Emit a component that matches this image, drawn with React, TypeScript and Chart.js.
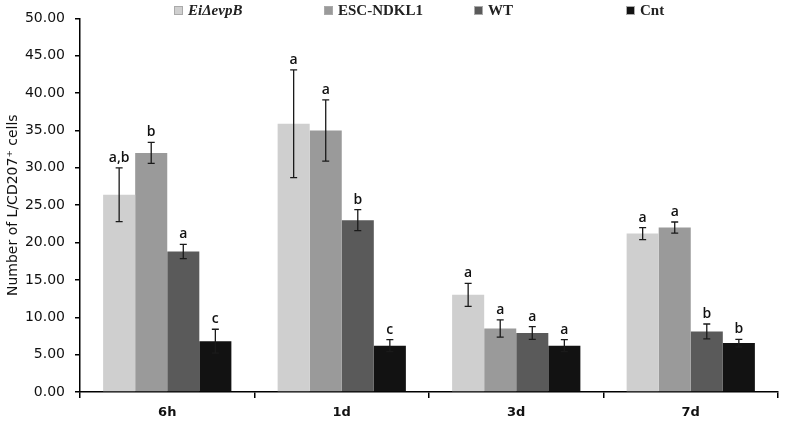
import { useEffect, useRef } from 'react'
import Chart from 'chart.js/auto'

const timepoints = ['6h', '1d', '3d', '7d']

const seriesNames = ['EiΔevpB', 'ESC-NDKL1', 'WT', 'Cnt']
const seriesColors = ['#cfcfcf', '#9a9a9a', '#5a5a5a', '#121212']

const eiEvpB = [26.4, 35.9, 13.0, 21.2]
const escNdkl1 = [32.0, 35.0, 8.5, 22.0]
const wt = [18.8, 23.0, 7.9, 8.1]
const cnt = [6.8, 6.2, 6.2, 6.55]

const eiEvpBErr = [3.6, 7.2, 1.55, 0.8]
const escNdkl1Err = [1.4, 4.1, 1.15, 0.75]
const wtErr = [0.95, 1.4, 0.85, 1.0]
const cntErr = [1.6, 0.8, 0.8, 0.5]

const eiEvpBSig = ['a,b', 'a', 'a', 'a']
const escNdkl1Sig = ['b', 'a', 'a', 'a']
const wtSig = ['a', 'b', 'a', 'b']
const cntSig = ['c', 'c', 'a', 'b']

const values = [eiEvpB, escNdkl1, wt, cnt]
const errors = [eiEvpBErr, escNdkl1Err, wtErr, cntErr]
const letters = [eiEvpBSig, escNdkl1Sig, wtSig, cntSig]

const yTicks = [0, 5, 10, 15, 20, 25, 30, 35, 40, 45, 50]

const legendLeft = [174, 324, 474, 626]

const errorBarPlugin = {
  id: 'errorBars',
  afterDatasetsDraw(chart: Chart) {
    const { ctx } = chart
    const y = chart.scales.y
    ctx.save()
    values.forEach((_, i) => {
      const meta = chart.getDatasetMeta(i)
      meta.data.forEach((bar: any, j: number) => {
        const v = values[i][j]
        const e = errors[i][j]
        const top = y.getPixelForValue(v + e)
        const bottom = y.getPixelForValue(v - e)
        const x = bar.x
        ctx.strokeStyle = '#1a1a1a'
        ctx.lineWidth = 1.3
        ctx.beginPath()
        ctx.moveTo(x, top)
        ctx.lineTo(x, bottom)
        ctx.moveTo(x - 3.5, top)
        ctx.lineTo(x + 3.5, top)
        ctx.moveTo(x - 3.5, bottom)
        ctx.lineTo(x + 3.5, bottom)
        ctx.stroke()

        ctx.fillStyle = '#111'
        ctx.font = '600 14px "Open Sans"'
        ctx.textAlign = 'center'
        ctx.textBaseline = 'bottom'
        ctx.fillText(letters[i][j], x, top - 3)
      })
    })
    ctx.restore()
  },
}

export default function App() {
  const canvasRef = useRef<HTMLCanvasElement>(null)
  const chartRef = useRef<Chart | null>(null)

  useEffect(() => {
    document.body.style.margin = '0'
    if (!canvasRef.current) return
    if (chartRef.current) chartRef.current.destroy()

    chartRef.current = new Chart(canvasRef.current, {
      type: 'bar',
      data: {
        labels: timepoints,
        datasets: values.map((data, i) => ({
          label: seriesNames[i],
          data,
          backgroundColor: seriesColors[i],
          borderWidth: 0,
          categoryPercentage: 0.735,
          barPercentage: 1,
        })),
      },
      options: {
        responsive: false,
        animation: false,
        devicePixelRatio: 1,
        layout: { padding: { top: 18, right: 9, left: 0, bottom: 0 } },
        plugins: { legend: { display: false }, tooltip: { enabled: false } },
        scales: {
          x: {
            afterFit: (s: any) => { s.height = 36 },
            border: { display: true, color: '#000', width: 1.5 },
            grid: { display: true, drawOnChartArea: false, drawTicks: true, tickLength: 6, color: '#000', lineWidth: 1.5, offset: true },
            ticks: { color: '#111', font: { family: '"DejaVu Sans"', size: 13, weight: 'bold' }, padding: 7 },
          },
          y: {
            min: 0,
            max: 50,
            afterFit: (s: any) => { s.width = 80 },
            afterBuildTicks: (s: any) => { s.ticks = yTicks.map((value) => ({ value })) },
            border: { display: true, color: '#000', width: 1.5 },
            grid: { display: true, drawOnChartArea: false, drawTicks: true, tickLength: 5, color: '#000', lineWidth: 1.5 },
            ticks: {
              color: '#111',
              font: { family: '"DejaVu Sans"', size: 14 },
              padding: 10,
              callback: (v: string | number) => Number(v).toFixed(2),
            },
            title: {
              display: true,
              text: 'Number of L/CD207⁺ cells',
              color: '#111',
              font: { family: '"DejaVu Sans"', size: 14 },
              padding: { top: 5, bottom: 0 },
            },
          },
        },
      },
      plugins: [errorBarPlugin],
    })

    return () => { chartRef.current?.destroy() }
  }, [])

  return (
    <div style={{ position: 'relative', width: 787, height: 428, background: '#fff' }}>
      <canvas ref={canvasRef} width={787} height={428} style={{ position: 'absolute', left: 0, top: 0 }} />
      {seriesNames.map((name, i) => (
        <div
          key={name}
          style={{
            position: 'absolute',
            left: legendLeft[i],
            top: 1,
            height: 18,
            display: 'flex',
            alignItems: 'center',
            fontFamily: '"Liberation Serif"',
            fontWeight: 'bold',
            fontSize: 15,
            color: '#222',
            whiteSpace: 'nowrap',
          }}
        >
          <span style={{ display: 'inline-block', width: 9, height: 9, background: seriesColors[i], border: '1px solid #aaa', boxSizing: 'border-box', marginRight: 5 }} />
          {i === 0 ? <i>{name}</i> : name}
        </div>
      ))}
    </div>
  )
}
